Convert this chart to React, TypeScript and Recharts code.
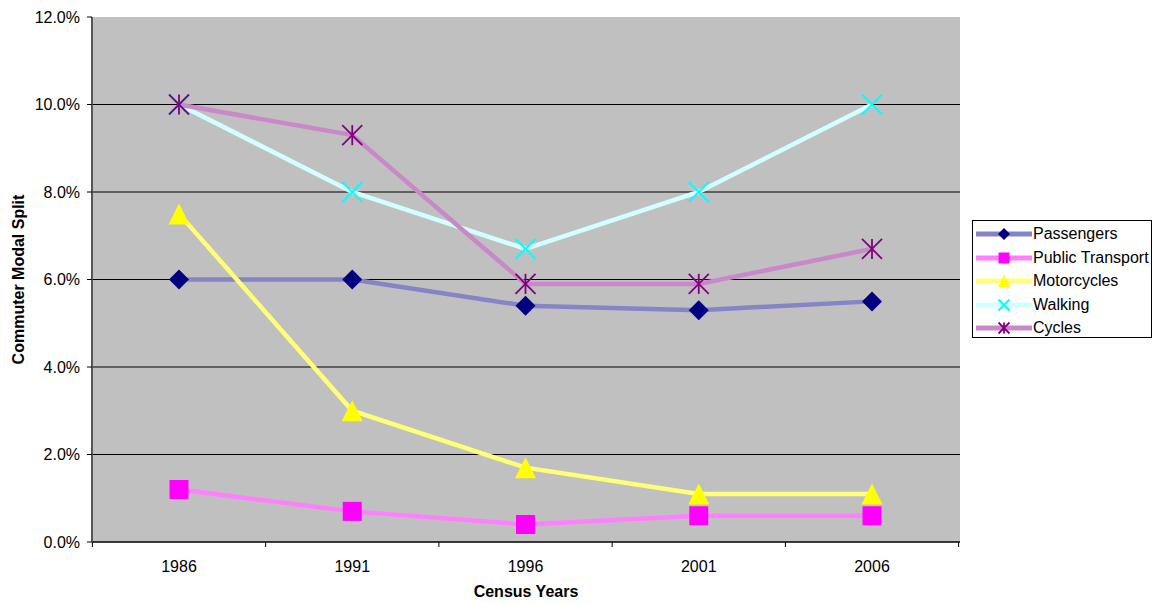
import React from 'react';
import {
  LineChart,
  Line,
  XAxis,
  YAxis,
  CartesianGrid,
} from 'recharts';

// census years on the category axis
const years = ['1986', '1991', '1996', '2001', '2006'];

// commuter modal split, in percent
const passengers = [6.0, 6.0, 5.4, 5.3, 5.5];
const publicTransport = [1.2, 0.7, 0.4, 0.6, 0.6];
const motorcycles = [7.5, 3.0, 1.7, 1.1, 1.1];
const walking = [10.0, 8.0, 6.7, 8.0, 10.0];
const cycles = [10.0, 9.3, 5.9, 5.9, 6.7];

const yTicks = [0, 2, 4, 6, 8, 10, 12];

const data = years.map((year, i) => ({
  year,
  passengers: passengers[i],
  publicTransport: publicTransport[i],
  motorcycles: motorcycles[i],
  walking: walking[i],
  cycles: cycles[i],
}));

const FONT = 'Arial, "Liberation Sans", sans-serif';
const HALF_BAND = 86.6;

type Shape = 'diamond' | 'square' | 'triangle' | 'x' | 'star';

function marker(shape: Shape, cx: number, cy: number, r: number, color: string, key?: string | number) {
  switch (shape) {
    case 'diamond':
      return (
        <polygon
          key={key}
          points={`${cx},${cy - r} ${cx + r},${cy} ${cx},${cy + r} ${cx - r},${cy}`}
          fill={color}
        />
      );
    case 'square':
      return <rect key={key} x={cx - r} y={cy - r} width={r * 2} height={r * 2} fill={color} />;
    case 'triangle':
      return (
        <polygon
          key={key}
          points={`${cx},${cy - r} ${cx + r},${cy + r} ${cx - r},${cy + r}`}
          fill={color}
        />
      );
    case 'x':
      return (
        <g key={key} stroke={color} strokeWidth={2}>
          <line x1={cx - r} y1={cy - r} x2={cx + r} y2={cy + r} />
          <line x1={cx - r} y1={cy + r} x2={cx + r} y2={cy - r} />
        </g>
      );
    default:
      return (
        <g key={key} stroke={color} strokeWidth={1.8}>
          <line x1={cx - r} y1={cy - r} x2={cx + r} y2={cy + r} />
          <line x1={cx - r} y1={cy + r} x2={cx + r} y2={cy - r} />
          <line x1={cx} y1={cy - r} x2={cx} y2={cy + r} />
        </g>
      );
  }
}

const seriesList: { key: string; name: string; line: string; dot: string; shape: Shape; r: number; lr: number }[] = [
  { key: 'passengers', name: 'Passengers', line: '#8484c6', dot: '#000080', shape: 'diamond', r: 10, lr: 6 },
  { key: 'publicTransport', name: 'Public Transport', line: '#ff80ff', dot: '#ff00ff', shape: 'square', r: 9.5, lr: 5.5 },
  { key: 'motorcycles', name: 'Motorcycles', line: '#ffff78', dot: '#ffff00', shape: 'triangle', r: 10.5, lr: 6 },
  { key: 'walking', name: 'Walking', line: '#d2ffff', dot: '#00ffff', shape: 'x', r: 10, lr: 5.5 },
  { key: 'cycles', name: 'Cycles', line: '#c988c9', dot: '#800080', shape: 'star', r: 10, lr: 5.5 },
];

function YearTick(props: any) {
  const { x, y, payload, index } = props;
  const last = index === years.length - 1;
  return (
    <g>
      <line x1={x - HALF_BAND} x2={x - HALF_BAND} y1={y} y2={y + 5} stroke="#000" />
      {last && <line x1={x + HALF_BAND} x2={x + HALF_BAND} y1={y} y2={y + 5} stroke="#000" />}
      <text x={x} y={y + 29.5} textAnchor="middle" fontSize={16} fontFamily={FONT} fill="#000">
        {payload.value}
      </text>
    </g>
  );
}

function Legend() {
  return (
    <div
      style={{
        position: 'absolute',
        left: 972,
        top: 220,
        width: 180,
        height: 118,
        border: '1px solid #000',
        background: '#fff',
        boxSizing: 'border-box',
        fontFamily: FONT,
        fontSize: 16,
      }}
    >
      {seriesList.map((s, i) => (
        <div
          key={s.key}
          style={{ position: 'absolute', left: 2, top: 2 + i * 23.5, height: 22, display: 'flex', alignItems: 'center' }}
        >
          <svg width={58} height={22}>
            <line x1={1} x2={57} y1={11} y2={11} stroke={s.line} strokeWidth={5} />
            {marker(s.shape, 29, 11, s.lr, s.dot)}
          </svg>
          <span style={{ whiteSpace: 'nowrap' }}>{s.name}</span>
        </div>
      ))}
    </div>
  );
}

export default function App() {
  return (
    <div style={{ position: 'absolute', left: 0, top: 0, width: 1157, height: 604, background: '#fff' }}>
      <LineChart
        width={1157}
        height={604}
        data={data}
        margin={{ top: 17, right: 197, bottom: 0, left: 32 }}
      >
        <CartesianGrid
          fill="#c0c0c0"
          stroke="#000"
          vertical={false}
          horizontalValues={[2, 4, 6, 8, 10]}
        />
        {/* gray frame on top and right of the plot area */}
        <XAxis
          xAxisId="frame"
          orientation="top"
          dataKey="year"
          height={0}
          tick={false}
          tickLine={false}
          axisLine={{ stroke: '#808080', strokeWidth: 1.5 }}
        />
        <YAxis
          yAxisId="frame"
          orientation="right"
          width={0}
          domain={[0, 12]}
          tick={false}
          tickLine={false}
          axisLine={{ stroke: '#808080', strokeWidth: 1.5 }}
        />
        <XAxis
          dataKey="year"
          padding={{ left: 87, right: 88 }}
          height={62}
          tickLine={false}
          tickSize={0}
          tickMargin={0}
          axisLine={{ stroke: '#000', strokeWidth: 1.5 }}
          tick={<YearTick />}
          interval={0}
          label={{
            value: 'Census Years',
            position: 'insideBottom',
            offset: 7,
            style: { fontFamily: FONT, fontSize: 16, fontWeight: 'bold', fill: '#000' },
          }}
        />
        <YAxis
          width={60}
          domain={[0, 12]}
          ticks={yTicks}
          interval={0}
          tickFormatter={(v: number) => `${v.toFixed(1)}%`}
          tickSize={5}
          tickMargin={7}
          tickLine={{ stroke: '#000' }}
          axisLine={{ stroke: '#555', strokeWidth: 2 }}
          tick={{ fontFamily: FONT, fontSize: 16, fill: '#000' }}
          label={{
            value: 'Commuter Modal Split',
            angle: -90,
            position: 'insideLeft',
            offset: -14,
            textAnchor: 'middle',
            style: { fontFamily: FONT, fontSize: 16, fontWeight: 'bold', fill: '#000', textAnchor: 'middle' },
          }}
        />
        {seriesList.map((s) => (
          <Line
            key={s.key}
            type="linear"
            dataKey={s.key}
            name={s.name}
            stroke={s.line}
            strokeWidth={4.5}
            isAnimationActive={false}
            dot={(p: any) => marker(s.shape, p.cx, p.cy, s.r, s.dot, p.index)}
            activeDot={false}
          />
        ))}
      </LineChart>
      <Legend />
    </div>
  );
}
